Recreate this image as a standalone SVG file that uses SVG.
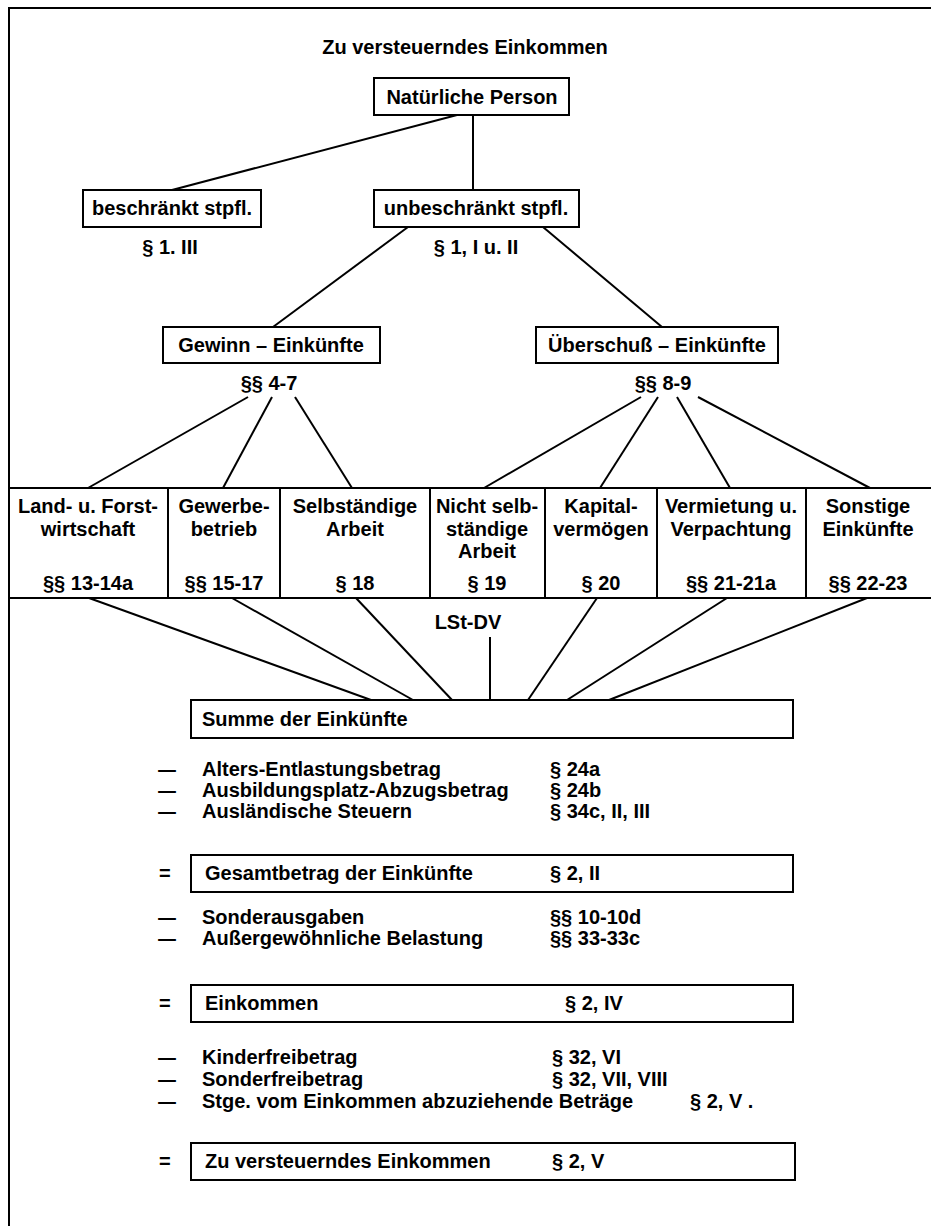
<svg xmlns="http://www.w3.org/2000/svg" width="931" height="1226" viewBox="0 0 931 1226">
<style>
.t{font-family:"Liberation Sans",Arial,sans-serif;font-weight:bold;font-size:20px;fill:#000}
.c{text-anchor:middle}
.box{fill:#fff;stroke:#000;stroke-width:2}
.ln{stroke:#000;stroke-width:2;fill:none}
</style>
<rect width="931" height="1226" fill="#fff"/>
<g id="frame"><path class="ln" d="M9,1226 V8 H931"/></g>
<text id="title" class="t c" x="465" y="54">Zu versteuerndes Einkommen</text>

<g id="connectors" class="ln">
<line x1="473" y1="115" x2="473" y2="190"/>
<line x1="457" y1="115" x2="172" y2="190"/>
<line x1="408" y1="227" x2="273" y2="327"/>
<line x1="543" y1="227" x2="662" y2="327"/>
<line x1="248" y1="397" x2="88" y2="488"/>
<line x1="272" y1="397" x2="223" y2="488"/>
<line x1="295" y1="397" x2="352" y2="488"/>
<line x1="641" y1="397" x2="484" y2="488"/>
<line x1="658" y1="397" x2="600" y2="488"/>
<line x1="677" y1="397" x2="730" y2="488"/>
<line x1="698" y1="397" x2="870" y2="488"/>
<line x1="89" y1="598" x2="371" y2="700"/>
<line x1="232" y1="598" x2="413" y2="700"/>
<line x1="356" y1="598" x2="452" y2="700"/>
<line x1="490" y1="637" x2="490" y2="700"/>
<line x1="597" y1="598" x2="528" y2="700"/>
<line x1="727" y1="598" x2="567" y2="700"/>
<line x1="867" y1="598" x2="609" y2="700"/>
</g>

<g id="natuerliche-person"><rect class="box" x="374" y="78" width="195" height="37"/><text class="t c" x="472" y="104">Natürliche Person</text></g>
<g id="beschraenkt"><rect class="box" x="83" y="190" width="178" height="37"/><text class="t c" x="172" y="215">beschränkt stpfl.</text><text class="t c" x="170" y="254">§ 1. III</text></g>
<g id="unbeschraenkt"><rect class="box" x="374" y="190" width="205" height="37"/><text class="t c" x="476" y="215">unbeschränkt stpfl.</text><text class="t c" x="476" y="254">§ 1, I u. II</text></g>
<g id="gewinn"><rect class="box" x="163" y="327" width="217" height="36"/><text class="t c" x="271" y="352">Gewinn – Einkünfte</text><text class="t c" x="269" y="390">§§ 4-7</text></g>
<g id="ueberschuss"><rect class="box" x="536" y="327" width="242" height="36"/><text class="t c" x="657" y="352">Überschuß – Einkünfte</text><text class="t c" x="663" y="390">§§ 8-9</text></g>

<g id="land-forst"><rect class="box" x="9" y="488" width="159" height="110"/><text class="t c" x="88" y="513">Land- u. Forst-</text><text class="t c" x="88" y="536">wirtschaft</text><text class="t c" x="88" y="590">§§ 13-14a</text></g>
<g id="gewerbebetrieb"><rect class="box" x="168" y="488" width="112" height="110"/><text class="t c" x="224" y="513">Gewerbe-</text><text class="t c" x="224" y="536">betrieb</text><text class="t c" x="224" y="590">§§ 15-17</text></g>
<g id="selbstaendige"><rect class="box" x="280" y="488" width="150" height="110"/><text class="t c" x="355" y="513">Selbständige</text><text class="t c" x="355" y="536">Arbeit</text><text class="t c" x="355" y="590">§ 18</text></g>
<g id="nichtselbstaendige"><rect class="box" x="430" y="488" width="115" height="110"/><text class="t c" x="487" y="513">Nicht selb-</text><text class="t c" x="487" y="536">ständige</text><text class="t c" x="487" y="558">Arbeit</text><text class="t c" x="487" y="590">§ 19</text></g>
<g id="kapital"><rect class="box" x="545" y="488" width="112" height="110"/><text class="t c" x="601" y="513">Kapital-</text><text class="t c" x="601" y="536">vermögen</text><text class="t c" x="601" y="590">§ 20</text></g>
<g id="vermietung"><rect class="box" x="657" y="488" width="149" height="110"/><text class="t c" x="731" y="513">Vermietung u.</text><text class="t c" x="731" y="536">Verpachtung</text><text class="t c" x="731" y="590">§§ 21-21a</text></g>
<g id="sonstige"><rect class="box" x="806" y="488" width="140" height="110"/><text class="t c" x="868" y="513">Sonstige</text><text class="t c" x="868" y="536">Einkünfte</text><text class="t c" x="868" y="590">§§ 22-23</text></g>

<g id="lst-dv"><text class="t c" x="468" y="629">LSt-DV</text></g>

<g id="summe"><rect class="box" x="191" y="700" width="602" height="38"/><text class="t" x="202" y="726">Summe der Einkünfte</text></g>

<g id="abzuege-1">
<text class="t" x="157" y="776" textLength="20" lengthAdjust="spacingAndGlyphs">–</text><text class="t" x="202" y="776">Alters-Entlastungsbetrag</text><text class="t" x="550" y="776">§ 24a</text>
<text class="t" x="157" y="797" textLength="20" lengthAdjust="spacingAndGlyphs">–</text><text class="t" x="202" y="797">Ausbildungsplatz-Abzugsbetrag</text><text class="t" x="550" y="797">§ 24b</text>
<text class="t" x="157" y="818" textLength="20" lengthAdjust="spacingAndGlyphs">–</text><text class="t" x="202" y="818">Ausländische Steuern</text><text class="t" x="550" y="818">§ 34c, II, III</text>
</g>
<g id="gesamtbetrag"><text class="t" x="159" y="880">=</text><rect class="box" x="191" y="855" width="602" height="37"/><text class="t" x="205" y="880">Gesamtbetrag der Einkünfte</text><text class="t" x="550" y="880">§ 2, II</text></g>

<g id="abzuege-2">
<text class="t" x="157" y="924" textLength="20" lengthAdjust="spacingAndGlyphs">–</text><text class="t" x="202" y="924">Sonderausgaben</text><text class="t" x="550" y="924">§§ 10-10d</text>
<text class="t" x="157" y="945" textLength="20" lengthAdjust="spacingAndGlyphs">–</text><text class="t" x="202" y="945">Außergewöhnliche Belastung</text><text class="t" x="550" y="945">§§ 33-33c</text>
</g>
<g id="einkommen"><text class="t" x="159" y="1010">=</text><rect class="box" x="191" y="985" width="602" height="37"/><text class="t" x="205" y="1010">Einkommen</text><text class="t" x="565" y="1010">§ 2, IV</text></g>

<g id="abzuege-3">
<text class="t" x="157" y="1064" textLength="20" lengthAdjust="spacingAndGlyphs">–</text><text class="t" x="202" y="1064">Kinderfreibetrag</text><text class="t" x="552" y="1064">§ 32, VI</text>
<text class="t" x="157" y="1086" textLength="20" lengthAdjust="spacingAndGlyphs">–</text><text class="t" x="202" y="1086">Sonderfreibetrag</text><text class="t" x="552" y="1086">§ 32, VII, VIII</text>
<text class="t" x="157" y="1108" textLength="20" lengthAdjust="spacingAndGlyphs">–</text><text class="t" x="202" y="1108">Stge. vom Einkommen abzuziehende Beträge</text><text class="t" x="690" y="1108">§ 2, V .</text>
</g>
<g id="zu-versteuern"><text class="t" x="159" y="1168">=</text><rect class="box" x="191" y="1143" width="604" height="37"/><text class="t" x="205" y="1168">Zu versteuerndes Einkommen</text><text class="t" x="552" y="1168">§ 2, V</text></g>
</svg>
